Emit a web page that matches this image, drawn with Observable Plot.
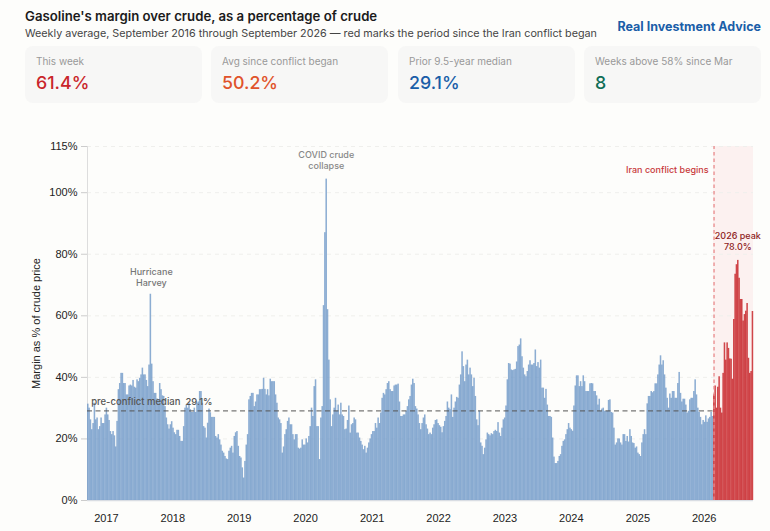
<!DOCTYPE html>
<html><head><meta charset="utf-8">
<script src="https://cdn.jsdelivr.net/npm/d3@7"></script>
<script src="https://cdn.jsdelivr.net/npm/@observablehq/plot@0.6"></script>
<style>
html,body{margin:0;padding:0;background:#fdfdfb;}
body{width:770px;height:531px;position:relative;overflow:hidden;font-family:Inter,sans-serif;}
#title{position:absolute;left:25px;top:8px;font-size:13.2px;font-weight:600;color:#1b1b1b;white-space:nowrap;}
#sub{position:absolute;left:25px;top:26.5px;font-size:10.77px;color:#444;white-space:nowrap;}
#brand{position:absolute;right:9px;top:19px;font-size:12.5px;font-weight:700;color:#1a5ea8;white-space:nowrap;}
.card{position:absolute;top:46px;width:177px;height:57px;background:#f7f7f6;border-radius:8px;}
.card .l{position:absolute;left:11px;top:9px;font-size:10px;color:#999;white-space:nowrap;}
.card .v{position:absolute;left:11px;top:26px;font-size:17.8px;font-weight:500;white-space:nowrap;}
#chart{position:absolute;left:0;top:130px;}
</style></head><body>
<div id="title">Gasoline's margin over crude, as a percentage of crude</div>
<div id="sub">Weekly average, September 2016 through September 2026 — red marks the period since the Iran conflict began</div>
<div id="brand">Real Investment Advice</div>
<div id="cards"></div>
<div id="chart"></div>
<script>
const cardLabels = ["This week","Avg since conflict began","Prior 9.5-year median","Weeks above 58% since Mar"];
const cardValues = ["61.4%","50.2%","29.1%","8"];
const cardColors = ["#c9252b","#e0532b","#1a5ea8","#0f6e56"];
const cardLefts = [25,211,398,584];

const margin2016to2018 = [31.3,30,26.2,23,25,31.6,26.2,26.8,23,24,26.8,25,25,27.8,30,27.8,26,22.4,21.4,22.4,21,17.4,25.7,36,38,41.3,41.3,38,38,34.3,34.3,37.2,37.5,37.2,39,36.8,36.5,39.2,38.6,39.7,40.8,43,40.8,40.8,39,37,44,67,44.3,38.6,34.8,34.8,33,32.7,38,36,34,33.8,30.5,26.8,24.6,23.2,24.6,25.6,23.5,22,21.4,22.8,22.8,20.8,19.2,19.2,24,30,31,30,31.6,29.5,28.6,28.6,30,28.6,31.6,32,35.4,35.4,31.6,24,23.5,20.3,25.1,29.7];
const margin2018to2020 = [28.5,27,27,27,20.8,20.3,21.4,19.7,18,16,15.4,14.3,13.5,13.3,16,17,17.6,15.4,20.8,22,22.4,17.6,14.3,13.8,10.6,7.3,12.7,18,21.4,32.7,33.8,34.8,34.8,30.5,32,34.3,34.3,36,36,36.1,39.7,36.1,34.3,36,34,39.4,38.6,38.6,38.6,34.3,31.6,26.8,26.2,25,15.4,17.4,21.4,23,25.7,26.8,24.6,24.6,21.4,19.7,21.4,21.4,17,16.7,17,19.7,18,18,20,18.7,20.8,24,30,27.3,37,39.2,24,24,13.3,26.8,30.5,63.3,87,104.4,62,45.6,32.7,24,27.8,30,33.2,29,31,27.8,31.6,27.8,27.3,23,23.2,26,30.7,21.9,24.6,25,26.8,26.2,21.9,21.9,20.3,19.2,18,16.5,17.6,15.4,17,18.7,20,21.4,22.4,22.4,25,23.5,26.8,25,28.4,33.2,34.8,34.3,36,38,38.6,36,35.4,35.4,37.2];
const margin2021to2023 = [37.5,37.5,37.8,32,27.3,27.3,27.8,27.8,29,30.5,32.7,33.8,37.5,39.4,38,30.5,29.7,27.8,25,23,25,26.8,27.8,24.6,23.2,21.4,21.9,21.4,23.5,24.6,26,26.2,25,24.3,23.8,22,24,25.7,27.3,32,30,29.5,34.3,27,30,32,33.5,33.2,37.5,40.8,48.3,43.5,38.6,44,45.6,40.8,43,40.8,37,39.7,33.8,26.2,24.3,29,18.7,17.6,14.9,17,19.7,21.9,21.4,21,21.7,21.4,22.4,22.8,22.4,25.3,21.9,20.8,23.5,26.2,26.8,30.7,39.2,44.5,44.3,42.4,42.2,42.4,42.6,45,50,50.5,52.5,46.7,43,40.8,40.2,41.9,44,45.4,44,44,44.5,48.9,43.5,44.8,43,45.6,36.5,36.5,33.2,36.1,31,27.3,27.3,27,20.3,14.1,12,12,12.7,14.3,14.9,17.6,19.2,19.7,21.4,23,25,23.5,23,22.5,30.7];
const margin2024to2026 = [37.2,40.5,40.5,37,38.6,37,40.5,38.6,35.4,35.4,35.4,37.9,38,37.9,35.4,35.4,34,31,32.9,29,29.7,30,29,29,29,32.5,32.7,28.6,28.4,23.5,18,18.7,20,20,18.7,18,21.4,21.4,19.2,20.8,19,23,20.8,18.7,18.5,17,17.4,15.4,14.9,14.3,18.7,21.4,23,21.4,31.4,33.8,33.8,35.4,35,35.4,37.9,37.9,40.8,44,47,44,45.4,40.8,36.5,33.2,30,34.6,33.2,35.4,35.4,33.2,33.2,38,41.6,34.8,32,32.9,32.9,31,28.4,29,32.7,33.2,33.2,35.4,39.2,34.3,30,28.6,27,24.6,26,25.4,27.5,25.4,26.5,27,28.6,27.3];
const marginConflict = [34.3,37.2,30,36.8,40.2,30,28.4,41.3,51.2,45.6,51.2,49.4,46,45.9,39.4,58.8,73.5,76.6,78,72.2,65.3,65.3,58.3,60.4,61.5,64,46.2,41.3,41.9,61.4];

const medianValue = 29.1;
const yTicks = [0,20,40,60,80,100,115];
const seriesStart = new Date("2016-09-15");
const seriesEnd = new Date("2026-09-25");
const annotations = [
  {date:new Date("2017-09-01"), y:75.8, text:"Hurricane\nHarvey", fill:"#777"},
  {date:new Date("2020-04-20"), y:113.7, text:"COVID crude\ncollapse", fill:"#888"},
  {date:new Date("2026-07-01"), y:87.5, text:"2026 peak\n78.0%", fill:"#8f1d1d"}
];

cardLabels.forEach((l,i)=>{
  const c=document.createElement("div");c.className="card";c.style.left=cardLefts[i]+"px";
  c.innerHTML=`<div class="l">${l}</div><div class="v" style="color:${cardColors[i]}">${cardValues[i]}</div>`;
  document.getElementById("cards").appendChild(c);
});

const allValues = [...margin2016to2018,...margin2018to2020,...margin2021to2023,...margin2024to2026,...marginConflict];
const n = allValues.length;
const t0 = +seriesStart, dt = (+seriesEnd - t0)/n;
const rows = allValues.map((v,i)=>({x1:new Date(t0+i*dt),x2:new Date(t0+(i+1)*dt),v,red:i>=n-marginConflict.length}));
const blue = rows.filter(d=>!d.red), red = rows.filter(d=>d.red);
const shadeStart = red[0].x1;

const plot = Plot.plot({
  width:770,height:401,marginLeft:87,marginRight:17,marginTop:16,marginBottom:31,
  style:{background:"transparent",fontFamily:"'Liberation Sans',Arial,sans-serif",fontSize:"11px",overflow:"visible"},
  x:{type:"utc",domain:[seriesStart,seriesEnd]},
  y:{domain:[0,115]},
  marks:[
    Plot.rect([{}],{x1:shadeStart,x2:seriesEnd,y1:0,y2:115,fill:"#fcf1f0"}),
    Plot.ruleY(yTicks.filter(d=>d>0),{stroke:"#efefec",strokeWidth:1,strokeDasharray:"4,4"}),
    Plot.ruleY([0],{stroke:"#d9dde3",strokeWidth:1.5}),
    Plot.ruleX([seriesStart],{y1:0,y2:115,stroke:"#dddddd",strokeWidth:1}),
    Plot.rectY(blue,{x1:"x1",x2:"x2",y:"v",fill:"#6f98c8",fillOpacity:0.8,insetRight:-0.2}),
    Plot.rectY(red,{x1:"x1",x2:"x2",y:"v",fill:"#c8282d",fillOpacity:0.85,insetRight:-0.2}),
    Plot.ruleY([medianValue],{x1:seriesStart,x2:shadeStart,stroke:"#555",strokeOpacity:0.8,strokeWidth:1.2,strokeDasharray:"5,3.5"}),
    Plot.ruleX([shadeStart],{y1:0,y2:115,stroke:"#e88a8c",strokeWidth:1.3,strokeDasharray:"3.5,3",dx:0.5}),
    Plot.text([{}],{x:new Date("2016-10-05"),y:31,text:()=>"pre-conflict median  29.1%",textAnchor:"start",lineAnchor:"bottom",fill:"#555",fontSize:9.5,fontWeight:500,fontFamily:"Inter,sans-serif"}),
    Plot.text(annotations,{x:"date",y:"y",text:"text",fill:"fill",fontWeight:500,fontSize:9,lineHeight:1.2,lineAnchor:"top",fontFamily:"Inter,sans-serif"}),
    Plot.text([{}],{x:shadeStart,y:107.4,dx:-5,text:()=>"Iran conflict begins",textAnchor:"end",fill:"#c8383a",fontWeight:500,fontSize:9,fontFamily:"Inter,sans-serif"}),
    Plot.axisY({ticks:yTicks,tickFormat:d=>d+"%",tickSize:6,tickPadding:4,stroke:"#ccc",fill:"#222",label:"Margin as % of crude price",labelAnchor:"center",labelArrow:"none",labelOffset:55,fontSize:11}),
    Plot.axisX({ticks:d3.utcYear.every(1),tickFormat:"%Y",tickSize:0,tickPadding:14,dx:-0.7,fill:"#222",label:null,fontSize:11})
  ]
});
document.getElementById("chart").appendChild(plot);
</script>
</body></html>
